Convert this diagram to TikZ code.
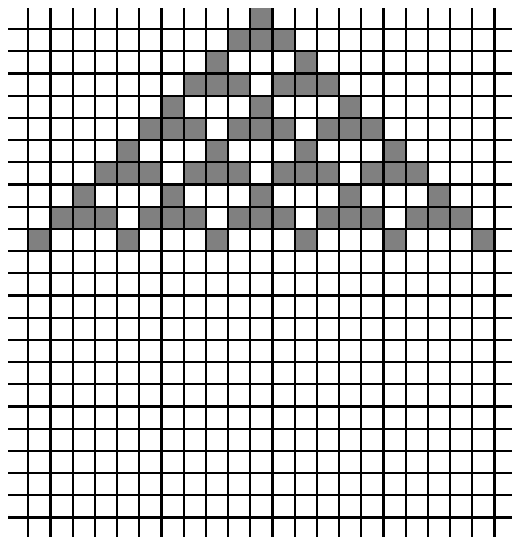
\documentclass[tikz,border=0pt]{standalone}
\begin{document}
\begin{tikzpicture}[x=1pt,y=-1pt]
\tikzset{cellfill/.style={fill={rgb,255:red,128;green,128;blue,128}},
         gridline/.style={line width=2.2pt, draw=black}}
\useasboundingbox (0,0) rectangle (512,541);
\fill[white] (0,0) rectangle (512,541);
% partial top cell
\fill[cellfill] (250.7,8) rectangle (272.9,29);
\foreach \r/\cols in {0/{9,10,11},1/{8,12},2/{7,8,9,11,12,13},3/{6,10,14},
  4/{5,6,7,9,10,11,13,14,15},5/{4,8,12,16},6/{3,4,5,7,8,9,11,12,13,15,16,17},
  7/{2,6,10,14,18},8/{1,2,3,5,6,7,9,10,11,13,14,15,17,18,19},9/{0,4,8,12,16,20}}{
  \foreach \c in \cols {
    \fill[cellfill] ({28.3+22.2*\c},{29+22.2*\r}) rectangle ++(22.2,22.2);
  }
}
\foreach \k in {0,...,21}
  \draw[gridline] ({28.3+22.2*\k},8) -- ({28.3+22.2*\k},537);
\foreach \j in {0,...,22}
  \draw[gridline] (8,{29+22.2*\j}) -- (512,{29+22.2*\j});
\end{tikzpicture}
\end{document}
